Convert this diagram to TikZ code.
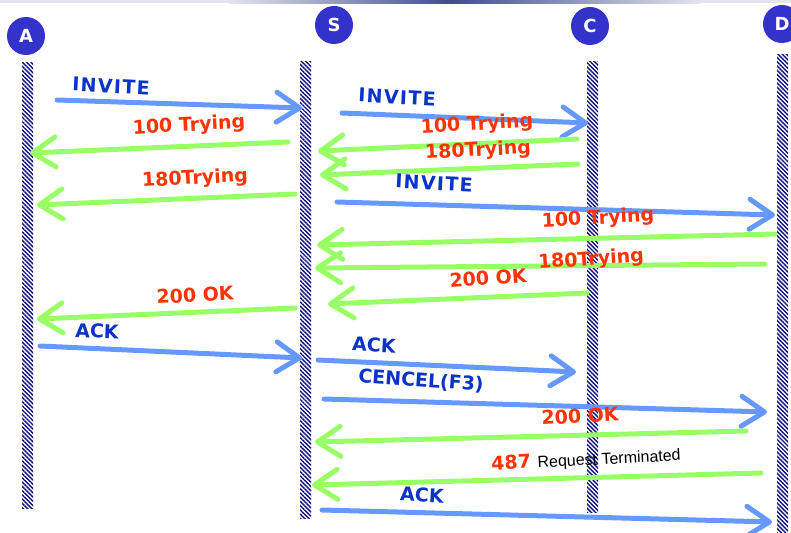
\documentclass[tikz,border=0pt]{standalone}
\usepackage{fontspec}
\usetikzlibrary{arrows.meta,patterns.meta}
\newfontfamily\lblfont{DejaVu Sans}
\newfontfamily\widefont{DejaVu Sans}[LetterSpace=7]
\newfontfamily\notefont{Liberation Sans}
\definecolor{actor}{HTML}{3333CC}
\definecolor{hatch}{HTML}{10107E}
\definecolor{req}{HTML}{6699FF}
\definecolor{resp}{HTML}{99FF66}
\definecolor{reqtext}{HTML}{0A33C8}
\definecolor{resptext}{HTML}{FF3300}
\definecolor{bandlight}{HTML}{E4E4EE}
\definecolor{banddark}{HTML}{3E4C8E}

\begin{document}
\begin{tikzpicture}[x=1pt,y=-1pt,
  actorc/.style={circle, fill=actor, minimum size=38pt, inner sep=0pt, text=white,
    font=\lblfont\bfseries\fontsize{18}{18}\selectfont},
  lifeline/.style={rectangle, draw=none, minimum width=11pt, inner sep=0pt,
    pattern={Lines[angle=-45,distance=3pt,line width=1.4pt]}, pattern color=hatch},
  reqmsg/.style={draw=req, line width=5pt, line cap=round,
    -{Straight Barb[length=23pt,width=30pt,round]}},
  respmsg/.style={draw=resp, line width=5pt, line cap=round,
    -{Straight Barb[length=23pt,width=30pt,round]}},
  reqlbl/.style={text=reqtext, inner sep=0pt,
    font=\lblfont\bfseries\fontsize{19}{20}\selectfont},
  resplbl/.style={text=resptext, inner sep=0pt,
    font=\lblfont\bfseries\fontsize{19}{20}\selectfont}]

\useasboundingbox (0,0) rectangle (791,532);
\fill[white] (0,0) rectangle (791,532);

% thin band along the top edge
\fill[bandlight] (0,0) rectangle (791,3.5);
\shade[left color=bandlight, right color=banddark] (230,0) rectangle (450,3.5);
\shade[left color=banddark, right color=bandlight] (450,0) rectangle (700,3.5);

% participants
\node[actorc] (pa) at (26,36) {A};
\node[actorc] (ps) at (334,25) {S};
\node[actorc] (pc) at (590,26) {C};
\node[actorc] (pd) at (782,24) {D};

% lifelines
\node[lifeline, minimum height=445pt] (la) at (27.5,285.5) {};
\node[lifeline, minimum height=456pt] (ls) at (305.5,290) {};
\node[lifeline, minimum height=450pt] (lc) at (592.5,287) {};
\node[lifeline, minimum height=485pt] (ld) at (782.5,297.5) {};

% message end points
\coordinate (m1s) at (57,100);   \coordinate (m1e) at (302,108);
\coordinate (m2s) at (288,142);  \coordinate (m2e) at (30,153);
\coordinate (m3s) at (295,194);  \coordinate (m3e) at (37,205);
\coordinate (m4s) at (295,308);  \coordinate (m4e) at (37,319);
\coordinate (m5s) at (40,346);   \coordinate (m5e) at (302,358);
\coordinate (m6s) at (342,113);  \coordinate (m6e) at (588,123);
\coordinate (m7s) at (577,139);  \coordinate (m7e) at (318,151);
\coordinate (m8s) at (578,164);  \coordinate (m8e) at (320,175);
\coordinate (m9s) at (337,202);  \coordinate (m9e) at (775,215);
\coordinate (m10s) at (775,234); \coordinate (m10e) at (317,245);
\coordinate (m11s) at (765,264); \coordinate (m11e) at (315,268);
\coordinate (m12s) at (587,293); \coordinate (m12e) at (328,304);
\coordinate (m13s) at (318,360); \coordinate (m13e) at (576,372);
\coordinate (m14s) at (324,399); \coordinate (m14e) at (767,412);
\coordinate (m15s) at (746,431); \coordinate (m15e) at (315,442);
\coordinate (m16s) at (761,473); \coordinate (m16e) at (312,485);
\coordinate (m17s) at (322,510); \coordinate (m17e) at (772,522);

% messages
\draw[reqmsg]  (m1s) -- (m1e);
\draw[respmsg] (m2s) -- (m2e);
\draw[respmsg] (m3s) -- (m3e);
\draw[respmsg] (m4s) -- (m4e);
\draw[reqmsg]  (m5s) -- (m5e);
\draw[reqmsg]  (m6s) -- (m6e);
\draw[respmsg] (m7s) -- (m7e);
\draw[respmsg] (m8s) -- (m8e);
\draw[reqmsg]  (m9s) -- (m9e);
\draw[respmsg] (m10s) -- (m10e);
\draw[respmsg] (m11s) -- (m11e);
\draw[respmsg] (m12s) -- (m12e);
\draw[reqmsg]  (m13s) -- (m13e);
\draw[reqmsg]  (m14s) -- (m14e);
\draw[respmsg] (m15s) -- (m15e);
\draw[respmsg] (m16s) -- (m16e);
\draw[reqmsg]  (m17s) -- (m17e);

% message labels
\node[reqlbl, rotate=-3]  (t1)  at (111,86)  {\widefont INVITE};
\node[resplbl, rotate=3]  (t2)  at (189,126) {100 Trying};
\node[resplbl, rotate=3]  (t3)  at (195,179) {180Trying};
\node[resplbl, rotate=3]  (t4)  at (195,295) {200 OK};
\node[reqlbl, rotate=-2]  (t5)  at (97,331)  {ACK};
\node[reqlbl, rotate=-3]  (t6)  at (397,97)  {\widefont INVITE};
\node[resplbl, rotate=3]  (t7)  at (477,125) {100 Trying};
\node[resplbl, rotate=3]  (t8)  at (478,151) {180Trying};
\node[reqlbl, rotate=-3]  (t9)  at (434,183) {\widefont INVITE};
\node[resplbl, rotate=3]  (t10) at (598,219) {100 Trying};
\node[resplbl, rotate=4]  (t11) at (591,260) {180Trying};
\node[resplbl, rotate=4]  (t12) at (488,278) {200 OK};
\node[reqlbl, rotate=-3]  (t13) at (374,345) {ACK};
\node[reqlbl, rotate=-4]  (t14) at (421,381) {CENCEL(F3)};
\node[resplbl, rotate=3]  (t15) at (580,416) {200 OK};
\node[resplbl, rotate=3]  (t16) at (586,460)
  {487 {\notefont\mdseries\fontsize{16}{17}\selectfont\color{black}Request Terminated}};
\node[reqlbl, rotate=-3]  (t17) at (422,495) {ACK};
\end{tikzpicture}
\end{document}
